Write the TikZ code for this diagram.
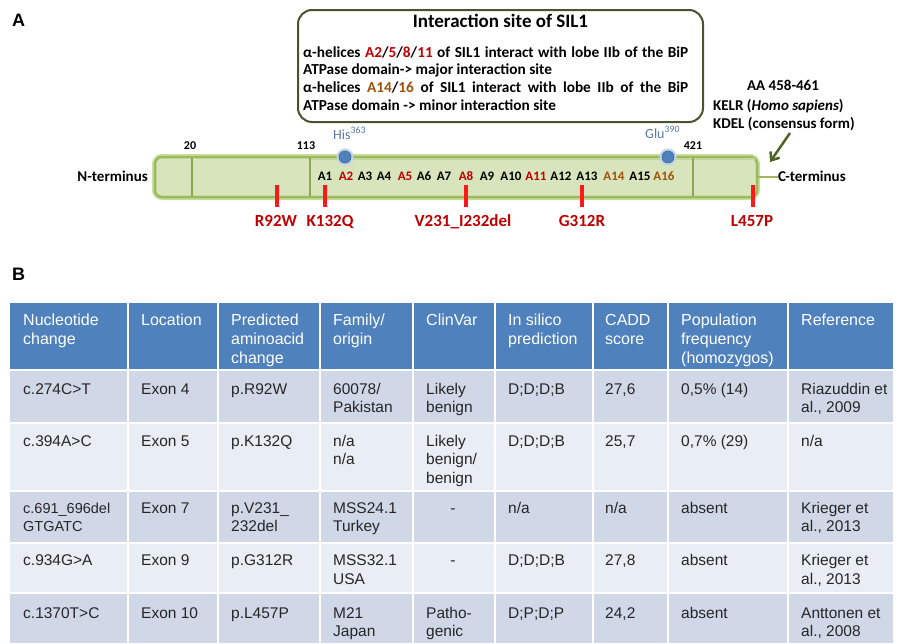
\documentclass[tikz,border=0pt]{standalone}
\usepackage{fontspec}
\setmainfont{Liberation Sans}
\newfontfamily\calfont{Carlito}
\usetikzlibrary{arrows.meta}
\definecolor{hdrblue}{HTML}{4F81BD}
\definecolor{rowdark}{HTML}{D0D8E8}
\definecolor{rowlight}{HTML}{E9EDF4}
\definecolor{celltext}{HTML}{262626}
\definecolor{mutred}{HTML}{C00000}
\definecolor{tickred}{HTML}{FF1A1A}
\definecolor{helixred}{HTML}{C00000}
\definecolor{helixbrown}{HTML}{A0520A}
\definecolor{barfill}{HTML}{D8E4BC}
\definecolor{barline}{HTML}{9BBB59}
\definecolor{barglow}{HTML}{C9DDA0}
\definecolor{boxline}{HTML}{4A5230}
\definecolor{arrowgreen}{HTML}{4F6228}
\definecolor{dotblue}{HTML}{4F81BD}
\definecolor{dotlabel}{HTML}{5A78A6}
\tikzset{
  hdrtxt/.style={anchor=north west, inner sep=0, align=left, text=white, font=\fontsize{16}{19}\selectfont},
  celltxt/.style={anchor=north west, inner sep=0, align=left, text=celltext, font=\fontsize{15.5}{18.5}\selectfont},
  paneltag/.style={anchor=base west, inner sep=0, font=\bfseries\fontsize{18}{20}\selectfont},
  helixlab/.style={anchor=base, inner sep=0, font=\calfont\bfseries\fontsize{13}{15}\selectfont},
  mutlab/.style={anchor=base, inner sep=0, text=mutred, font=\calfont\bfseries\fontsize{17}{20}\selectfont},
  mutmark/.style={rectangle, fill=tickred, minimum width=4.5pt, minimum height=22pt, inner sep=0},
  poslab/.style={anchor=base, inner sep=0, font=\calfont\bfseries\fontsize{12}{14}\selectfont},
  termlab/.style={inner sep=0, font=\calfont\bfseries\fontsize{15}{17}\selectfont},
  boxtxt/.style={anchor=base west, inner sep=0, font=\calfont\bfseries\fontsize{15.3}{17}\selectfont},
  sitetxt/.style={inner sep=0, font=\calfont\bfseries\fontsize{15}{17}\selectfont},
  resdot/.style={circle, fill=dotblue, draw=dotblue!80!black, line width=0.6pt, minimum size=12pt, inner sep=0, preaction={draw=dotblue!35, line width=5pt}},
  reslab/.style={anchor=base west, inner sep=0, text=dotlabel, font=\calfont\fontsize{14}{16}\selectfont},
  divider/.style={draw=barline!90!black, line width=1.5pt},
}
\begin{document}
\begin{tikzpicture}[x=1pt,y=-1pt]
\useasboundingbox (0,0) rectangle (900,643);
\fill[white] (0,0) rectangle (900,643);

% ---------------- Panel A ----------------
\node[paneltag] (tagA) at (12,26) {A};

% interaction box
\node[draw=boxline, line width=2pt, rounded corners=14pt, fill=white,
      minimum width=405pt, minimum height=112pt, inner sep=0] (ibox) at (500.5,66) {};
\node[anchor=base, inner sep=0, font=\calfont\bfseries\fontsize{19}{21}\selectfont] (ititle) at (500.5,27) {Interaction site of SIL1};
\node[boxtxt] (il1) at (303,57) {\makebox[385pt][s]{α-helices {\color{helixred}A2}/{\color{helixred}5}/{\color{helixred}8}/{\color{helixred}11} of SIL1 interact with lobe IIb of the BiP}};
\node[boxtxt] (il2) at (303,74.5) {ATPase domain-> major interaction site};
\node[boxtxt] (il3) at (303,92) {\makebox[385pt][s]{α-helices {\color{helixbrown}A14}/{\color{helixbrown}16} of SIL1 interact with lobe IIb of the BiP}};
\node[boxtxt] (il4) at (303,110) {ATPase domain -> minor interaction site};

% protein bar
\draw[barglow, line width=6pt, rounded corners=7pt] (155,157) rectangle (757,197);
\node[draw=barline, fill=barfill, line width=2.5pt, rounded corners=7pt,
      minimum width=602pt, minimum height=40pt, inner sep=0] (bar) at (456,177) {};
\draw[barline!60!white, line width=2pt] (310,158.5) -- (755,158.5);
\draw[divider] (192,158) -- (192,196);
\draw[divider] (310,158) -- (310,196);
\draw[divider] (693,158) -- (693,196);

\node[poslab] (p20) at (190,149.5) {20};
\node[poslab] (p113) at (306,149.5) {113};
\node[poslab] (p421) at (693,149.5) {421};

\node[termlab, anchor=base east] (nterm) at (148,181) {N-terminus};
\node[termlab, anchor=base west] (cterm) at (778,181) {C-terminus};
\draw[barline, line width=2.5pt] (bar.east) -- (cterm.west |- bar.east);

% helices
\node[helixlab] (h1) at (325,180.5) {A1};
\node[helixlab, text=helixred] (h2) at (346,180.5) {A2};
\node[helixlab] (h3) at (365,180.5) {A3};
\node[helixlab] (h4) at (384,180.5) {A4};
\node[helixlab, text=helixred] (h5) at (405,180.5) {A5};
\node[helixlab] (h6) at (424,180.5) {A6};
\node[helixlab] (h7) at (444,180.5) {A7};
\node[helixlab, text=helixred] (h8) at (466,180.5) {A8};
\node[helixlab] (h9) at (487,180.5) {A9};
\node[helixlab] (h10) at (511,180.5) {A10};
\node[helixlab, text=helixred] (h11) at (536,180.5) {A11};
\node[helixlab] (h12) at (561,180.5) {A12};
\node[helixlab] (h13) at (587,180.5) {A13};
\node[helixlab, text=helixbrown] (h14) at (614,180.5) {A14};
\node[helixlab] (h15) at (640,180.5) {A15};
\node[helixlab, text=helixbrown] (h16) at (664,180.5) {A16};

% residues
\node[resdot] (his) at (345,157) {};
\node[resdot] (glu) at (668,157) {};
\node[reslab] (hislab) at (333,139) {His\textsuperscript{363}};
\node[reslab] (glulab) at (645,138) {Glu\textsuperscript{390}};

% mutations
\node[mutmark] (m1) at (277,196) {};
\node[mutmark] (m2) at (325,196) {};
\node[mutmark] (m3) at (466,196) {};
\node[mutmark] (m4) at (582,196) {};
\node[mutmark] (m5) at (753,196) {};
\node[mutlab] (ml1) at (276,226) {R92W};
\node[mutlab] (ml2) at (330,226) {K132Q};
\node[mutlab] (ml3) at (463,226) {V231\_I232del};
\node[mutlab] (ml4) at (582,226) {G312R};
\node[mutlab] (ml5) at (752,226) {L457P};

% KDEL site
\node[sitetxt, anchor=base] (aa) at (783,90) {AA 458-461};
\node[sitetxt, anchor=base west] (kelr) at (713,110) {KELR (\textit{Homo sapiens})};
\node[sitetxt, anchor=base west] (kdel) at (713,128) {KDEL (consensus form)};
\coordinate (arrtail) at (790,133);
\coordinate (arrhead) at (770,162);
\draw[arrowgreen, line width=2.5pt, -{Straight Barb[length=7pt,width=11pt]}] (arrtail) -- (arrhead);

% ---------------- Panel B ----------------
\node[paneltag] (tagB) at (12,280) {B};

\fill[hdrblue] (10,303) rectangle (893,370);
\fill[rowdark] (10,370) rectangle (893,422.5);
\fill[rowlight] (10,422.5) rectangle (893,490.5);
\fill[rowdark] (10,490.5) rectangle (893,542.5);
\fill[rowlight] (10,542.5) rectangle (893,593);
\fill[rowdark] (10,593) rectangle (893,643);
\foreach \yy in {370,422.5,490.5,542.5,593} \draw[white, line width=2pt] (10,\yy) -- (893,\yy);
\foreach \xx in {128,218,320,413,495,593,668,788} \draw[white, line width=2pt] (\xx,303) -- (\xx,643);

% header
\node[hdrtxt] (th1) at (23,311.5) {\strut Nucleotide\\change};
\node[hdrtxt] (th2) at (141,311.5) {\strut Location};
\node[hdrtxt] (th3) at (231,311.5) {\strut Predicted\\aminoacid\\change};
\node[hdrtxt] (th4) at (333,311.5) {\strut Family/\\origin};
\node[hdrtxt] (th5) at (426,311.5) {\strut ClinVar};
\node[hdrtxt] (th6) at (508,311.5) {\strut In silico\\prediction};
\node[hdrtxt] (th7) at (605,311.5) {\strut CADD\\score};
\node[hdrtxt] (th8) at (681,311.5) {\strut Population\\frequency\\(homozygos)};
\node[hdrtxt] (th9) at (801,311.5) {\strut Reference};

% row 1
\node[celltxt] (r1c1) at (23,381) {\strut c.274C>T};
\node[celltxt] (r1c2) at (141,381) {\strut Exon 4};
\node[celltxt] (r1c3) at (231,381) {\strut p.R92W};
\node[celltxt] (r1c4) at (333,381) {\strut 60078/\\Pakistan};
\node[celltxt] (r1c5) at (426,381) {\strut Likely\\benign};
\node[celltxt] (r1c6) at (508,381) {\strut D;D;D;B};
\node[celltxt] (r1c7) at (605,381) {\strut 27,6};
\node[celltxt] (r1c8) at (681,381) {\strut 0,5\% (14)};
\node[celltxt] (r1c9) at (801,381) {\strut Riazuddin et\\al., 2009};

% row 2
\node[celltxt] (r2c1) at (23,433) {\strut c.394A>C};
\node[celltxt] (r2c2) at (141,433) {\strut Exon 5};
\node[celltxt] (r2c3) at (231,433) {\strut p.K132Q};
\node[celltxt] (r2c4) at (333,433) {\strut n/a\\n/a};
\node[celltxt] (r2c5) at (426,433) {\strut Likely\\benign/\\benign};
\node[celltxt] (r2c6) at (508,433) {\strut D;D;D;B};
\node[celltxt] (r2c7) at (605,433) {\strut 25,7};
\node[celltxt] (r2c8) at (681,433) {\strut 0,7\% (29)};
\node[celltxt] (r2c9) at (801,433) {\strut n/a};

% row 3
\node[celltxt, font=\fontsize{14.5}{18.5}\selectfont] (r3c1) at (23,500) {\strut c.691\_696del\\GTGATC};
\node[celltxt] (r3c2) at (141,500) {\strut Exon 7};
\node[celltxt] (r3c3) at (231,500) {\strut p.V231\_\\232del};
\node[celltxt] (r3c4) at (333,500) {\strut MSS24.1\\Turkey};
\node[celltxt, anchor=north] (r3c5) at (453,500) {\strut -};
\node[celltxt] (r3c6) at (508,500) {\strut n/a};
\node[celltxt] (r3c7) at (605,500) {\strut n/a};
\node[celltxt] (r3c8) at (681,500) {\strut absent};
\node[celltxt] (r3c9) at (801,500) {\strut Krieger et\\al., 2013};

% row 4
\node[celltxt] (r4c1) at (23,552.5) {\strut c.934G>A};
\node[celltxt] (r4c2) at (141,552.5) {\strut Exon 9};
\node[celltxt] (r4c3) at (231,552.5) {\strut p.G312R};
\node[celltxt] (r4c4) at (333,552.5) {\strut MSS32.1\\USA};
\node[celltxt, anchor=north] (r4c5) at (453,552.5) {\strut -};
\node[celltxt] (r4c6) at (508,552.5) {\strut D;D;D;B};
\node[celltxt] (r4c7) at (605,552.5) {\strut 27,8};
\node[celltxt] (r4c8) at (681,552.5) {\strut absent};
\node[celltxt] (r4c9) at (801,552.5) {\strut Krieger et\\al., 2013};

% row 5
\node[celltxt] (r5c1) at (23,605) {\strut c.1370T>C};
\node[celltxt] (r5c2) at (141,605) {\strut Exon 10};
\node[celltxt] (r5c3) at (231,605) {\strut p.L457P};
\node[celltxt] (r5c4) at (333,605) {\strut M21\\Japan};
\node[celltxt] (r5c5) at (426,605) {\strut Patho-\\genic};
\node[celltxt] (r5c6) at (508,605) {\strut D;P;D;P};
\node[celltxt] (r5c7) at (605,605) {\strut 24,2};
\node[celltxt] (r5c8) at (681,605) {\strut absent};
\node[celltxt] (r5c9) at (801,605) {\strut Anttonen et\\al., 2008};
\end{tikzpicture}
\end{document}
